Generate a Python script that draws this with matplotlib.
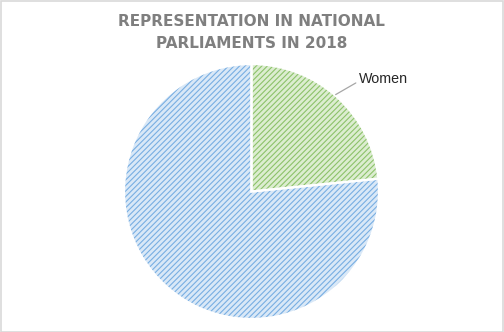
import matplotlib
matplotlib.use("Agg")
import matplotlib.pyplot as plt
from matplotlib.patches import Rectangle

labels = ["Women", "Men"]
shares = [23.4, 76.6]
shown_labels = ["Women", ""]
face_colors = ["#dcedd0", "#d9e8f7"]
hatch_colors = ["#8cc26a", "#78aee2"]

plt.rcParams["hatch.linewidth"] = 0.8

fig = plt.figure(figsize=(5.04, 3.32), dpi=100)
fig.patch.set_facecolor("white")

W, H = 504, 332
cx, cy, r = 251.5, 191.5, 127.5
ax = fig.add_axes([(cx - r) / W, (H - cy - r) / H, 2 * r / W, 2 * r / H])

# pass 1: hatched fill
wedges, _ = ax.pie(shares, startangle=90, counterclock=False, radius=1,
                   colors=face_colors, wedgeprops=dict(linewidth=0))
for w, hc in zip(wedges, hatch_colors):
    w.set_hatch("//////")
    w.set_edgecolor(hc)
    w.set_linewidth(0)

# pass 2: white separators
ax.pie(shares, startangle=90, counterclock=False, radius=1,
       colors=["none", "none"],
       wedgeprops=dict(linewidth=1.6, edgecolor="white", fill=False))

# label with leader line for Women
ax.annotate(shown_labels[0], xy=(0.66, 0.76), xytext=(0.84, 0.88),
            fontsize=10.3, family="Liberation Sans", color="#262626",
            va="center", ha="left",
            arrowprops=dict(arrowstyle="-", color="#a6a6a6", lw=0.9,
                            shrinkA=0, shrinkB=0,
                            connectionstyle="angle,angleA=0,angleB=30,rad=0"))

ax.set_xlim(-1, 1)
ax.set_ylim(-1, 1)
ax.set_aspect("auto")
ax.axis("off")

fig.text(0.499, 1 - 22 / H, "REPRESENTATION IN NATIONAL", ha="center",
         va="center", fontsize=11, fontweight="bold", color="#7f7f7f",
         family="DejaVu Sans")
fig.text(0.499, 1 - 43 / H, "PARLIAMENTS IN 2018", ha="center",
         va="center", fontsize=11, fontweight="bold", color="#7f7f7f",
         family="DejaVu Sans")

fig.add_artist(Rectangle((0.001, 0.0015), 0.997, 0.996, transform=fig.transFigure,
                         fill=False, edgecolor="#d9d9d9", linewidth=1.2))

fig.savefig("out.png", dpi=100, facecolor="white")
